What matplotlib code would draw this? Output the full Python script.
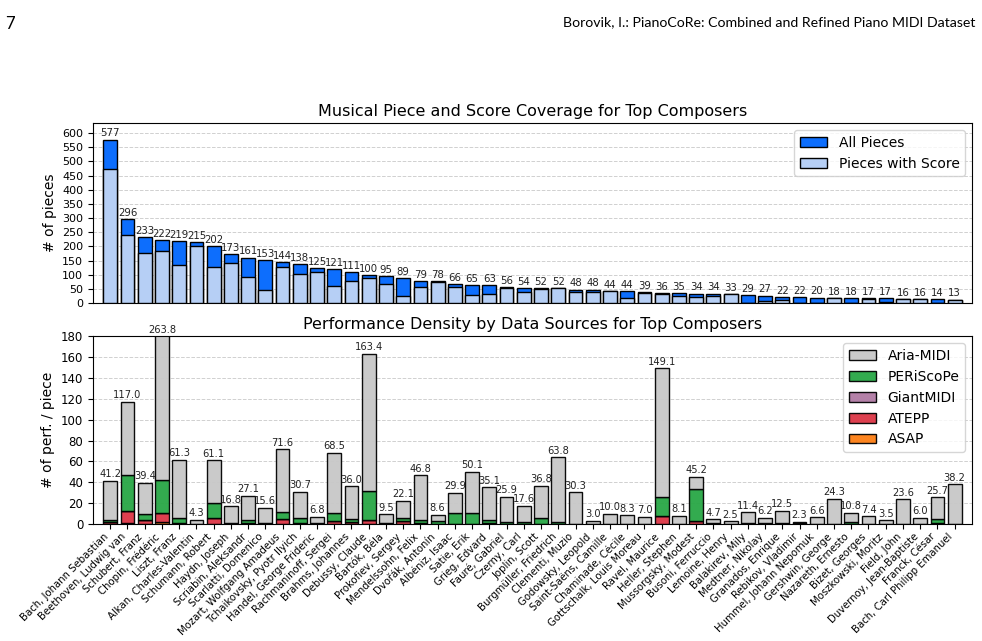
import numpy as np
import matplotlib
matplotlib.use("Agg")
import matplotlib.pyplot as plt


# Data
composers = [
    "Bach, Johann Sebastian", "Beethoven, Ludwig van", "Schubert, Franz", "Chopin, Frédéric",
    "Liszt, Franz", "Alkan, Charles-Valentin", "Schumann, Robert", "Haydn, Joseph",
    "Scriabin, Aleksandr", "Scarlatti, Domenico", "Mozart, Wolfgang Amadeus",
    "Tchaikovsky, Pyotr Ilyich", "Handel, George Frideric", "Rachmaninoff, Sergei",
    "Brahms, Johannes", "Debussy, Claude", "Bartók, Béla", "Prokofiev, Sergey",
    "Mendelssohn, Felix", "Dvořák, Antonín", "Albéniz, Isaac", "Satie, Erik",
    "Grieg, Edvard", "Fauré, Gabriel", "Czerny, Carl", "Joplin, Scott",
    "Burgmüller, Friedrich", "Clementi, Muzio", "Godowsky, Leopold", "Saint-Saëns, Camille",
    "Chaminade, Cécile", "Gottschalk, Louis Moreau", "Ravel, Maurice", "Heller, Stephen",
    "Mussorgsky, Modest", "Busoni, Ferruccio", "Lemoine, Henry", "Balakirev, Mily",
    "Medtner, Nikolay", "Granados, Enrique", "Rebikov, Vladimir", "Hummel, Johann Nepomuk",
    "Gershwin, George", "Nazareth, Ernesto", "Bizet, Georges", "Moszkowski, Moritz",
    "Field, John", "Duvernoy, Jean-Baptiste", "Franck, César", "Bach, Carl Philipp Emanuel",
]

all_pieces = [577, 296, 233, 222, 219, 215, 202, 173, 161, 153, 144, 138, 125, 121, 111,
              100, 95, 89, 79, 78, 66, 65, 63, 56, 54, 52, 52, 48, 48, 44, 44, 39, 36, 35,
              34, 34, 33, 29, 27, 22, 22, 20, 18, 18, 17, 17, 16, 16, 14, 13]
score_pieces = [473, 239, 178, 184, 136, 202, 129, 140, 91, 46, 128, 104, 111, 62, 78,
                88, 67, 27, 57, 73, 57, 28, 33, 53, 40, 51, 52, 40, 41, 44, 18, 35, 31, 27,
                23, 27, 33, 0, 8, 10, 0, 0, 17, 0, 16, 3, 15, 16, 0, 12]

total_density = [41.2, 117.0, 39.4, 263.8, 61.3, 4.3, 61.1, 16.8, 27.1, 15.6, 71.6, 30.7,
                 6.8, 68.5, 36.0, 163.4, 9.5, 22.1, 46.8, 8.6, 29.9, 50.1, 35.1, 25.9,
                 17.6, 36.8, 63.8, 30.3, 3.0, 10.0, 8.3, 7.0, 149.1, 8.1, 45.2, 4.7, 2.5,
                 11.4, 6.2, 12.5, 2.3, 6.6, 24.3, 10.8, 7.4, 3.5, 23.6, 6.0, 25.7, 38.2]
asap = [0.4, 0.5, 0.3, 1.9, 0.3, 0, 0.3, 0, 0, 0, 0.3, 0, 0, 0.3, 0.3, 0.3, 0, 0.2,
        0, 0, 0, 0, 0, 0, 0, 0, 0, 0, 0, 0, 0, 0, 0.4, 0, 0.2, 0, 0, 0, 0, 0, 0, 0,
        0, 0, 0, 0, 0, 0, 0, 0]
atepp = [1.8, 12.2, 3.5, 8.3, 1.0, 0, 5.4, 0.7, 1.2, 0.8, 4.8, 0.8, 0.3, 2.2, 1.6, 3.2,
         0.8, 2.3, 0.8, 0.3, 0, 0, 1.0, 0.3, 0, 0, 0, 0, 0, 0, 0, 0, 7.5, 0, 2.3, 0.2,
         0, 0, 0.2, 0, 0.2, 0, 0, 0.4, 0, 0, 0, 0, 0.6, 0]
giantmidi = [0] * 50
periscope = [1.9, 34.6, 5.7, 32.0, 4.4, 0.3, 14.3, 0.3, 2.9, 0.4, 6.0, 4.6, 0.2, 7.7,
             3.2, 28.2, 0.6, 2.9, 2.7, 2.2, 10.8, 10.2, 2.8, 1.3, 1.9, 5.4, 1.6, 0.3,
             0, 0.3, 0, 0, 18.4, 0.3, 30.8, 0.3, 0, 0.5, 0.3, 0.5, 0.3, 0, 0.3, 1.6,
             0, 0, 0.3, 0, 3.8, 0.3]
aria = [t - a - b - c - d for t, a, b, c, d in
        zip(total_density, asap, atepp, giantmidi, periscope)]

x = np.arange(len(composers))
w = 0.8

fig = plt.figure(figsize=(9.82, 6.41), dpi=100)
fig.text(0.005, 0.975, "7", fontsize=12, family="Lato", va="top", ha="left")
fig.text(0.993, 0.975, "Borovik, I.: PianoCoRe: Combined and Refined Piano MIDI Dataset",
         fontsize=10.2, family="Lato", va="top", ha="right")

# Top chart
ax1 = fig.add_axes([0.0947, 0.527, 0.895, 0.281])
ax1.bar(x, all_pieces, w, color="#0D6EFD", edgecolor="black", linewidth=1, label="All Pieces",
        zorder=2)
ax1.bar(x, score_pieces, w, color="#B6CFF5", edgecolor="black", linewidth=1,
        label="Pieces with Score", zorder=3)
for xi, v in zip(x, all_pieces):
    ax1.text(xi, v + 4, str(v), ha="center", va="bottom", fontsize=7.3, color="#222222")
ax1.set_xlim(-1, 50)
ax1.set_ylim(0, 635)
ax1.set_yticks(np.arange(0, 601, 50))
ax1.tick_params(axis="y", labelsize=8)
ax1.set_xticks([])
ax1.set_ylabel("# of pieces", fontsize=10)
ax1.set_title("Musical Piece and Score Coverage for Top Composers", fontsize=11.5, pad=5)
ax1.grid(axis="y", linestyle="--", color="#d0d0d0", linewidth=0.7, zorder=0)
ax1.set_axisbelow(True)
ax1.legend(loc="upper right", fontsize=10)

# Bottom chart
ax2 = fig.add_axes([0.0947, 0.1825, 0.895, 0.293])
sources = [("ASAP", asap, "#FD7E14"), ("ATEPP", atepp, "#DC3545"),
           ("GiantMIDI", giantmidi, "#B07AA4"), ("PERiScoPe", periscope, "#28A745"),
           ("Aria-MIDI", aria, "#C8C8C8")]
bottom = np.zeros(len(x))
handles = []
for name, vals, col in sources:
    h = ax2.bar(x, vals, w, bottom=bottom, color=col, edgecolor="black", linewidth=1,
                label=name, zorder=2, alpha=0.95)
    handles.append(h)
    bottom += np.array(vals)
for xi, v in zip(x, total_density):
    ax2.text(xi, min(v, 180) + 1.5, "%.1f" % v, ha="center", va="bottom", fontsize=7.1,
             color="#222222", clip_on=False)
ax2.set_xlim(-1, 50)
ax2.set_ylim(0, 180)
ax2.set_yticks(np.arange(0, 181, 20))
ax2.tick_params(axis="y", labelsize=8.5)
ax2.tick_params(axis="x", pad=2)
ax2.set_xticks(x)
ax2.set_xticklabels(composers, rotation=45, ha="right", fontsize=7.3)
ax2.set_ylabel("# of perf. / piece", fontsize=10)
ax2.set_title("Performance Density by Data Sources for Top Composers", fontsize=11.5, pad=5)
ax2.grid(axis="y", linestyle="--", color="#d0d0d0", linewidth=0.7, zorder=0)
ax2.set_axisbelow(True)
ax2.legend(handles[::-1], [s[0] for s in sources][::-1], loc="upper right", fontsize=10)

fig.savefig("out.png", dpi=100)
